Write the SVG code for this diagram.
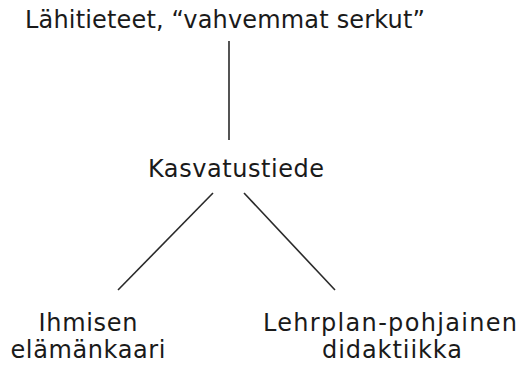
<svg xmlns="http://www.w3.org/2000/svg" width="520" height="365" viewBox="0 0 520 365">
<style>
text{font-family:"DejaVu Sans","Liberation Sans",sans-serif;font-size:24px;fill:#1a1a1a;text-anchor:middle}
line{stroke:#2a2a2a;stroke-width:1.6}
</style>
<rect width="520" height="365" fill="#fff"/>
<g id="connectors">
<line x1="229" y1="41" x2="229" y2="140"/>
<line x1="213" y1="193" x2="118" y2="290"/>
<line x1="244" y1="193" x2="335" y2="290"/>
</g>
<g id="node-lahitieteet"><text x="225" y="28" textLength="400" lengthAdjust="spacing">Lähitieteet, “vahvemmat serkut”</text></g>
<g id="node-kasvatustiede"><text x="236" y="177" textLength="176" lengthAdjust="spacing">Kasvatustiede</text></g>
<g id="node-ihmisen"><text x="88" y="331" textLength="99" lengthAdjust="spacing">Ihmisen</text><text x="88" y="358" textLength="155" lengthAdjust="spacing">elämänkaari</text></g>
<g id="node-lehrplan"><text x="390" y="331" textLength="254" lengthAdjust="spacing">Lehrplan-pohjainen</text><text x="392" y="358" textLength="140" lengthAdjust="spacing">didaktiikka</text></g>
</svg>
